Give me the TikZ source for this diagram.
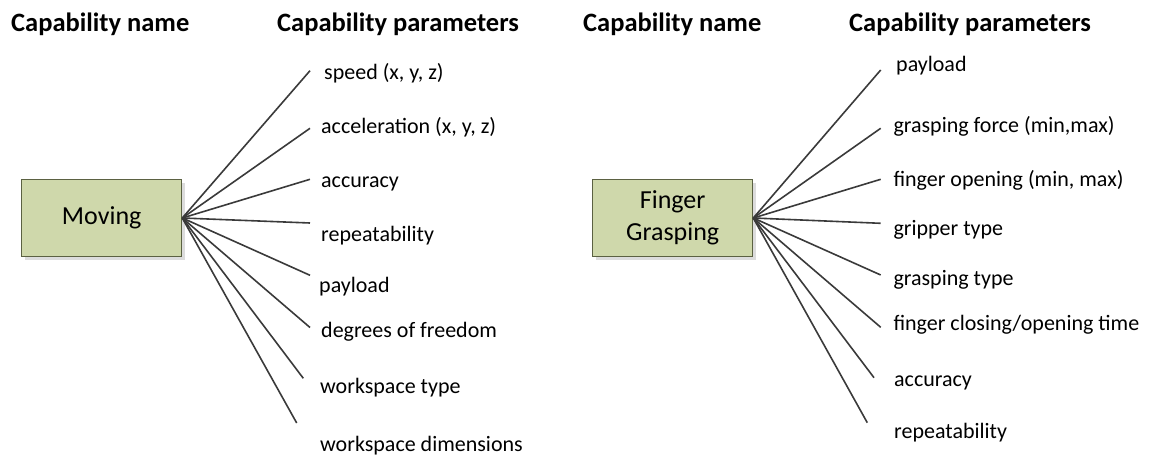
\documentclass[tikz,border=0pt]{standalone}
\usepackage{fontspec}
\setmainfont{Carlito}
\begin{document}
\begin{tikzpicture}[x=1pt,y=-1pt,
  header/.style={anchor=base west,inner sep=0pt,font=\fontsize{26.5}{30}\selectfont\bfseries},
  param/.style={anchor=base west,inner sep=0pt,font=\fontsize{22}{26}\selectfont},
  capbox/.style={draw=boxline,line width=1.2pt,fill=boxfill,minimum width=160pt,minimum height=77pt,
    inner sep=0pt,align=center,font=\fontsize{26}{32}\selectfont},
  spoke/.style={draw=spokecol,line width=1.6pt}]
\definecolor{boxfill}{HTML}{CFD8AB}
\definecolor{boxline}{HTML}{5B6142}
\definecolor{boxshadow}{HTML}{DCDCDC}
\definecolor{spokecol}{HTML}{3A3A3A}
\useasboundingbox (0,0) rectangle (1149,457);

% ---- left block: Moving ----
\node[header] (hn1) at (11,32) {Capability name};
\node[header] (hp1) at (277,32) {Capability parameters};
\fill[boxshadow] (25,183) rectangle (185,260);
\node[capbox] (mov) at (101.7,218) {Moving};

\foreach \i/\ex/\ey in {1/310/70.7, 2/310/128.3, 3/310/179.3, 4/310/223, 5/310/275.3,
    6/310/327.5, 7/303.3/378.3, 8/296.7/423}
  \coordinate (m\i) at (\ex,\ey);
\foreach \i in {1,...,8} \draw[spoke] (mov.east) -- (m\i);

\node[param] (mt1) at (324,79.4) {speed (x, y, z)};
\node[param] (mt2) at (321,133.5) {acceleration (x, y, z)};
\node[param] (mt3) at (321,187.5) {accuracy};
\node[param] (mt4) at (321,241.5) {repeatability};
\node[param] (mt5) at (319,292.5) {payload};
\node[param] (mt6) at (321,337) {degrees of freedom};
\node[param] (mt7) at (320,393) {workspace type};
\node[param] (mt8) at (320,451) {workspace dimensions};

% ---- right block: Finger Grasping ----
\node[header] (hn2) at (583,32) {Capability name};
\node[header] (hp2) at (849,32) {Capability parameters};
\fill[boxshadow] (596,183) rectangle (756,260);
\node[capbox] (fg) at (672.7,218) {Finger\\Grasping};

\foreach \i/\ex/\ey in {1/880.7/70, 2/880.7/128.3, 3/880.7/179.3, 4/880.7/223.3, 5/880.7/275,
    6/880.7/327.3, 7/874/377.7, 8/867.3/422.7}
  \coordinate (g\i) at (\ex,\ey);
\foreach \i in {1,...,8} \draw[spoke] (fg.east) -- (g\i);

\node[param] (gt1) at (896,71.7) {payload};
\node[param] (gt2) at (893.3,132.7) {grasping force (min,max)};
\node[param] (gt3) at (893.3,186.7) {finger opening (min, max)};
\node[param] (gt4) at (893.3,235.5) {gripper type};
\node[param] (gt5) at (893.3,285.5) {grasping type};
\node[param] (gt6) at (893.3,330) {finger closing/opening time};
\node[param] (gt7) at (894,386.7) {accuracy};
\node[param] (gt8) at (894,438.5) {repeatability};
\end{tikzpicture}
\end{document}
